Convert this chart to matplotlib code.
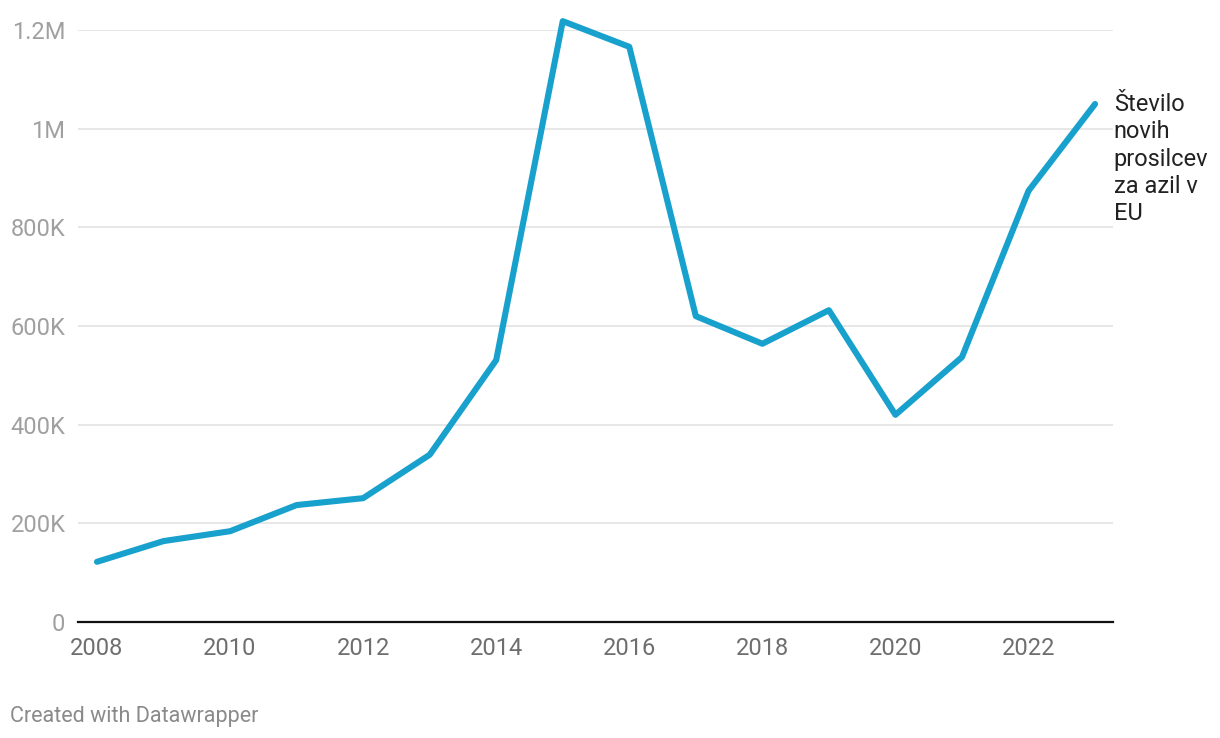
import matplotlib
matplotlib.use('Agg')
import matplotlib.pyplot as plt
from matplotlib.ticker import FuncFormatter

YEARS = list(range(2008, 2024))
APPLICANTS = [122000, 164000, 184000, 237000, 251000, 339000, 531000, 1218000,
              1166000, 620000, 564000, 632000, 420000, 537000, 874000, 1050000]
Y_TICKS = [0, 200000, 400000, 600000, 800000, 1000000, 1200000]
X_TICKS = list(range(2008, 2024, 2))
SERIES_LABEL = "Število\nnovih\nprosilcev\nza azil v\nEU"

plt.rcParams['font.family'] = ['Roboto', 'DejaVu Sans']


def fmt_y(v, _):
    if v == 0:
        return "0"
    if v >= 1e6:
        return f"{v / 1e6:g}M"
    return f"{v / 1e3:g}K"


fig = plt.figure(figsize=(12.2, 7.38), dpi=100)
ax = fig.add_axes([0.0639, 0.1572, 0.8484, 0.8021])

ax.plot(YEARS, APPLICANTS, color="#18a1cd", linewidth=4.4,
        solid_capstyle="round", solid_joinstyle="round", clip_on=False, zorder=3)

ax.set_xlim(2007.714, 2023.27)
ax.set_ylim(0, 1200000)
ax.set_yticks(Y_TICKS)
ax.set_xticks(X_TICKS)
ax.yaxis.set_major_formatter(FuncFormatter(fmt_y))

ax.grid(axis="y", color="#e3e3e3", linewidth=1.2)
ax.set_axisbelow(True)
for side in ["top", "right", "left"]:
    ax.spines[side].set_visible(False)
ax.spines["bottom"].set_color("#111111")
ax.spines["bottom"].set_linewidth(1.6)
ax.spines["bottom"].set_zorder(4)

ax.tick_params(axis="y", length=0, pad=9, labelsize=17, labelcolor="#a0a0a0")
ax.tick_params(axis="x", length=0, pad=11, labelsize=17, labelcolor="#6e6e6e")

ax.annotate(SERIES_LABEL, xy=(YEARS[-1], APPLICANTS[-1]), xytext=(13.5, 8),
            textcoords="offset points", ha="left", va="top",
            fontsize=17, color="#222222", linespacing=1.24,
            annotation_clip=False)

fig.text(0.008, 0.029, "Created with Datawrapper", fontsize=15.5,
         color="#8a8a8a", ha="left", va="center")

fig.savefig("out.png", dpi=100)
